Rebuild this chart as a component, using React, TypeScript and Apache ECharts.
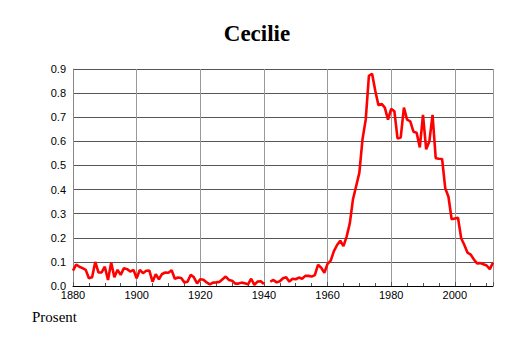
import React, { useEffect, useRef } from "react";
import * as echarts from "echarts";

const startYear = 1880;
const values: (number | null)[] = [
  // 1880-1889
  0.064, 0.089, 0.08, 0.074, 0.067, 0.032, 0.036, 0.1, 0.056, 0.056,
  // 1890-1899
  0.08, 0.025, 0.097, 0.036, 0.067, 0.046, 0.074, 0.07, 0.06, 0.067,
  // 1900-1909
  0.032, 0.067, 0.053, 0.063, 0.064, 0.018, 0.049, 0.028, 0.05, 0.056,
  // 1910-1919
  0.055, 0.065, 0.03, 0.035, 0.033, 0.015, 0.018, 0.047, 0.036, 0.011,
  // 1920-1929
  0.028, 0.026, 0.015, 0.007, 0.014, 0.015, 0.017, 0.028, 0.039, 0.025,
  // 1930-1939
  0.022, 0.01, 0.01, 0.014, 0.011, 0.007, 0.03, 0.005, 0.018, 0.02,
  // 1940-1949
  0.008, null, 0.018, 0.025, 0.015, 0.02, 0.032, 0.036, 0.018, 0.03,
  // 1950-1959
  0.028, 0.035, 0.03, 0.042, 0.042, 0.039, 0.045, 0.088, 0.076, 0.055,
  // 1960-1969
  0.092, 0.105, 0.145, 0.17, 0.188, 0.165, 0.205, 0.26, 0.36, 0.415,
  // 1970-1979
  0.47, 0.61, 0.69, 0.872, 0.88, 0.81, 0.75, 0.755, 0.74, 0.69,
  // 1980-1989
  0.735, 0.725, 0.612, 0.616, 0.74, 0.69, 0.683, 0.64, 0.636, 0.575,
  // 1990-1999
  0.71, 0.567, 0.6, 0.71, 0.53, 0.528, 0.527, 0.405, 0.37, 0.277,
  // 2000-2009
  0.28, 0.283, 0.198, 0.17, 0.138, 0.13, 0.11, 0.094, 0.095, 0.09,
  // 2010-2012
  0.085, 0.07, 0.097,
];

const title = "Cecilie";
const yLabel = "Prosent";

export default function App() {
  const ref = useRef<HTMLDivElement>(null);
  useEffect(() => {
    document.body.style.margin = "0";
    if (!ref.current) return;
    const chart = echarts.init(ref.current, undefined, { renderer: "svg" });
    const data = values.map((v, i) => [startYear + i, v]);
    chart.setOption({
      animation: false,
      backgroundColor: "#ffffff",
      title: {
        text: title,
        left: "center",
        top: 17,
        textStyle: {
          fontFamily: "Liberation Serif",
          fontWeight: "bold",
          fontSize: 23,
          color: "#000",
        },
      },
      graphic: [
        {
          type: "text",
          left: 32,
          top: 309,
          style: {
            text: yLabel,
            fontFamily: "Liberation Serif",
            fontSize: 15,
            fill: "#000",
          },
        },
      ],
      grid: { left: 73, right: 21, top: 69, bottom: 57 },
      xAxis: {
        type: "value",
        min: 1880,
        max: 2012,
        interval: 20,
        axisLine: { show: true, lineStyle: { color: "#000", width: 1 } },
        axisTick: { show: true, inside: true, length: 4, lineStyle: { color: "#555" } },
        minorTick: { show: true, splitNumber: 4, length: 3, lineStyle: { color: "#555" } },
        axisLabel: {
          showMaxLabel: false,
          color: "#000",
          fontFamily: "Liberation Sans",
          fontSize: 11,
          margin: 3,
          formatter: (v: number) => String(v),
        },
        splitLine: { show: true, lineStyle: { color: "#999", width: 1 } },
      },
      yAxis: {
        type: "value",
        min: 0,
        max: 0.9,
        interval: 0.1,
        axisLine: { show: true, lineStyle: { color: "#888", width: 1 } },
        axisTick: { show: false },
        axisLabel: {
          color: "#000",
          fontFamily: "Liberation Sans",
          fontSize: 11,
          margin: 7,
          formatter: (v: number) => v.toFixed(1),
        },
        splitLine: { show: true, lineStyle: { color: "#555", width: 1 } },
      },
      series: [
        {
          type: "line",
          data,
          showSymbol: false,
          connectNulls: false,
          lineStyle: { color: "#ff0000", width: 2.6 },
          itemStyle: { color: "#ff0000" },
        },
      ],
    });
    return () => chart.dispose();
  }, []);
  return <div ref={ref} style={{ width: 514, height: 343 }} />;
}
